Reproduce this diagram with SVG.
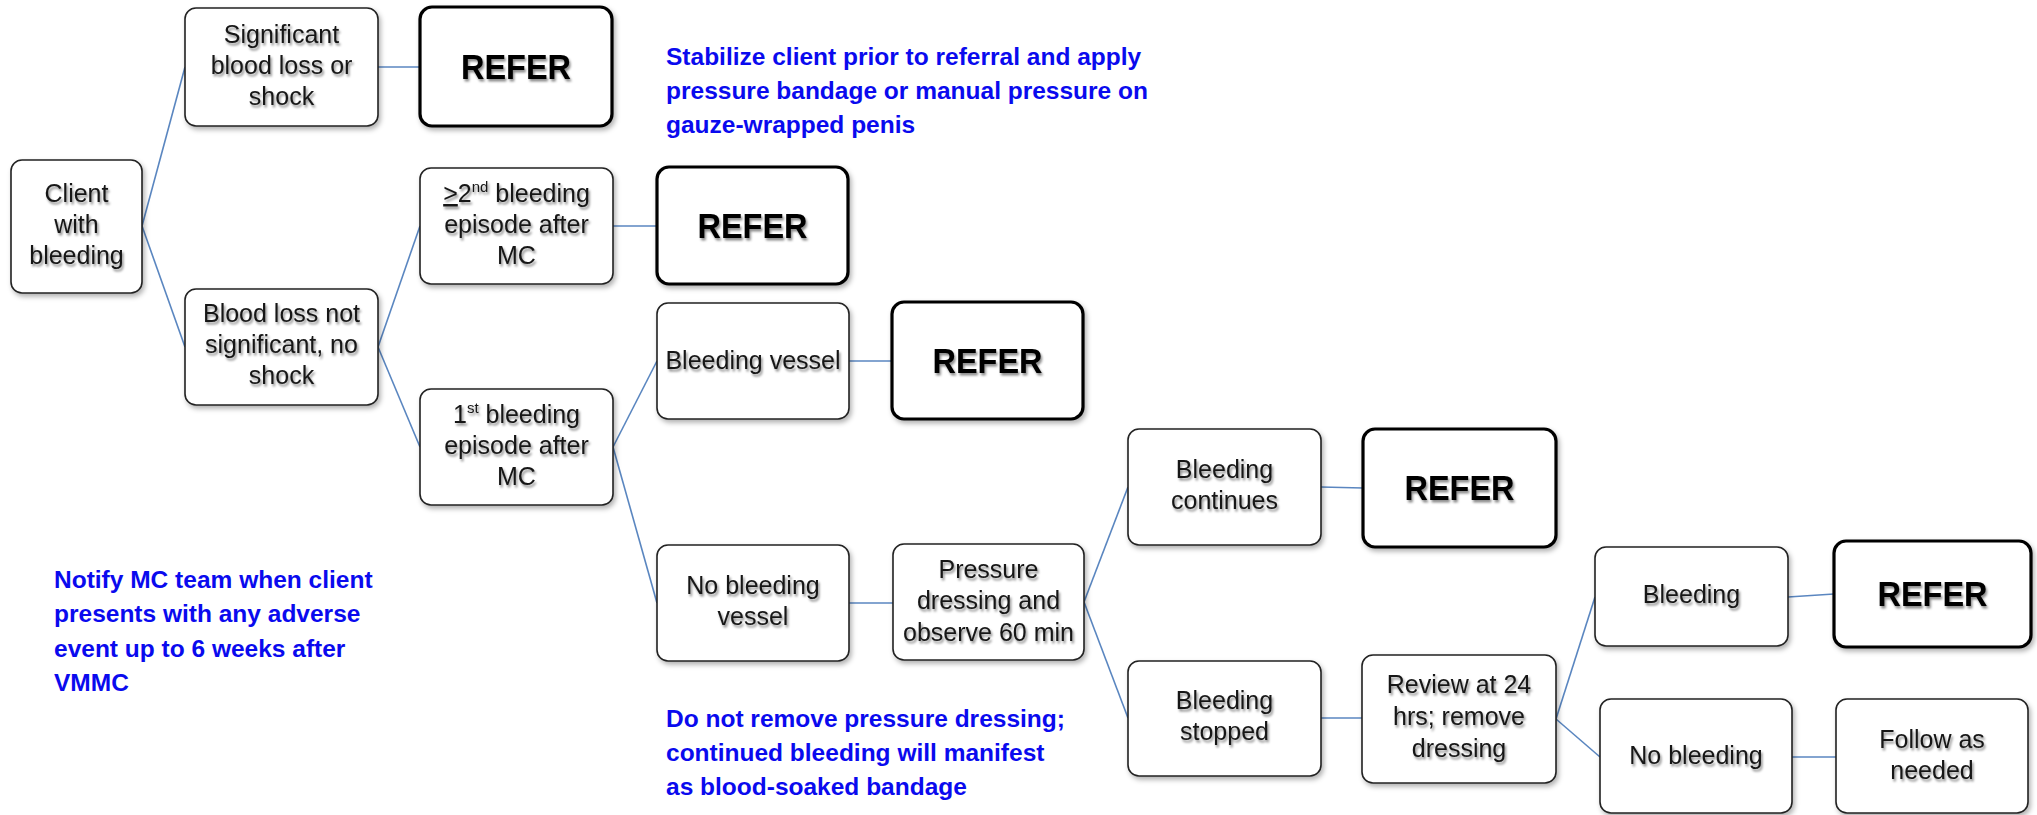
<svg xmlns="http://www.w3.org/2000/svg" width="2037" height="815" viewBox="0 0 2037 815">
<defs>
<filter id="bsh" x="-10%" y="-10%" width="125%" height="130%">
<feDropShadow dx="2" dy="3" stdDeviation="2.5" flood-color="#000" flood-opacity="0.3"/>
</filter>
<filter id="tsh" x="-10%" y="-20%" width="125%" height="150%">
<feDropShadow dx="1.5" dy="2.5" stdDeviation="1.3" flood-color="#000" flood-opacity="0.45"/>
</filter>
<style>
.box{fill:#fff;stroke:#222;stroke-width:1.6;filter:url(#bsh)}
.rbox{fill:#fff;stroke:#000;stroke-width:3.2;filter:url(#bsh)}
.t{font-family:"Liberation Sans",Arial,sans-serif;font-size:25px;fill:#161616;text-anchor:middle;filter:url(#tsh)}
.r{font-family:"Liberation Sans",Arial,sans-serif;font-size:35px;font-weight:bold;fill:#000;text-anchor:middle;filter:url(#tsh)}
.n{font-family:"Liberation Sans",Arial,sans-serif;font-size:24.5px;font-weight:bold;fill:#0a0aee}
.c{stroke:#5a86c0;stroke-width:1.6;fill:none}
.sup{font-size:15px}
</style>
</defs>

<g id="connectors">
<line class="c" x1="142" y1="226" x2="185" y2="67"/>
<line class="c" x1="142" y1="226" x2="185" y2="347"/>
<line class="c" x1="378" y1="67" x2="420" y2="67"/>
<line class="c" x1="378" y1="347" x2="420" y2="226"/>
<line class="c" x1="378" y1="347" x2="420" y2="447"/>
<line class="c" x1="613" y1="226" x2="657" y2="226"/>
<line class="c" x1="613" y1="447" x2="657" y2="361"/>
<line class="c" x1="613" y1="447" x2="657" y2="603"/>
<line class="c" x1="849" y1="361" x2="892" y2="361"/>
<line class="c" x1="849" y1="603" x2="893" y2="603"/>
<line class="c" x1="1084" y1="602" x2="1128" y2="487"/>
<line class="c" x1="1084" y1="602" x2="1128" y2="718"/>
<line class="c" x1="1321" y1="487" x2="1363" y2="488"/>
<line class="c" x1="1321" y1="718" x2="1362" y2="718"/>
<line class="c" x1="1556" y1="719" x2="1595" y2="597"/>
<line class="c" x1="1556" y1="719" x2="1600" y2="757"/>
<line class="c" x1="1788" y1="597" x2="1834" y2="594"/>
<line class="c" x1="1792" y1="757" x2="1836" y2="757"/>
</g>

<g id="client">
<rect class="box" x="11" y="160" width="131" height="133" rx="11"/>
<text class="t" x="76.5" y="202">Client</text>
<text class="t" x="76.5" y="233">with</text>
<text class="t" x="76.5" y="264">bleeding</text>
</g>

<g id="significant">
<rect class="box" x="185" y="8" width="193" height="118" rx="11"/>
<text class="t" x="281.5" y="43">Significant</text>
<text class="t" x="281.5" y="74">blood loss or</text>
<text class="t" x="281.5" y="105">shock</text>
</g>

<g id="refer1">
<rect class="rbox" x="420" y="7" width="192" height="119" rx="12"/>
<text class="r" x="516" y="79" textLength="110" lengthAdjust="spacingAndGlyphs">REFER</text>
</g>

<g id="notsig">
<rect class="box" x="185" y="289" width="193" height="116" rx="11"/>
<text class="t" x="281.5" y="322">Blood loss not</text>
<text class="t" x="281.5" y="353">significant, no</text>
<text class="t" x="281.5" y="384">shock</text>
</g>

<g id="second">
<rect class="box" x="420" y="168" width="193" height="116" rx="11"/>
<text class="t" x="516.5" y="202"><tspan text-decoration="underline">&gt;</tspan>2<tspan class="sup" dy="-10">nd</tspan><tspan dy="10"> bleeding</tspan></text>
<text class="t" x="516.5" y="233">episode after</text>
<text class="t" x="516.5" y="264">MC</text>
</g>

<g id="refer2">
<rect class="rbox" x="657" y="167" width="191" height="117" rx="12"/>
<text class="r" x="752.5" y="238" textLength="110" lengthAdjust="spacingAndGlyphs">REFER</text>
</g>

<g id="first">
<rect class="box" x="420" y="389" width="193" height="116" rx="11"/>
<text class="t" x="516.5" y="423">1<tspan class="sup" dy="-10">st</tspan><tspan dy="10"> bleeding</tspan></text>
<text class="t" x="516.5" y="454">episode after</text>
<text class="t" x="516.5" y="485">MC</text>
</g>

<g id="vessel">
<rect class="box" x="657" y="303" width="192" height="116" rx="11"/>
<text class="t" x="753" y="369">Bleeding vessel</text>
</g>

<g id="refer3">
<rect class="rbox" x="892" y="302" width="191" height="117" rx="12"/>
<text class="r" x="987.5" y="373" textLength="110" lengthAdjust="spacingAndGlyphs">REFER</text>
</g>

<g id="novessel">
<rect class="box" x="657" y="545" width="192" height="116" rx="11"/>
<text class="t" x="753" y="594">No bleeding</text>
<text class="t" x="753" y="625">vessel</text>
</g>

<g id="pressure">
<rect class="box" x="893" y="544" width="191" height="116" rx="11"/>
<text class="t" x="988.5" y="578">Pressure</text>
<text class="t" x="988.5" y="609">dressing and</text>
<text class="t" x="988.5" y="641">observe  60 min</text>
</g>

<g id="continues">
<rect class="box" x="1128" y="429" width="193" height="116" rx="11"/>
<text class="t" x="1224.5" y="478">Bleeding</text>
<text class="t" x="1224.5" y="509">continues</text>
</g>

<g id="refer4">
<rect class="rbox" x="1363" y="429" width="193" height="118" rx="12"/>
<text class="r" x="1459.5" y="500" textLength="110" lengthAdjust="spacingAndGlyphs">REFER</text>
</g>

<g id="stopped">
<rect class="box" x="1128" y="661" width="193" height="115" rx="11"/>
<text class="t" x="1224.5" y="709">Bleeding</text>
<text class="t" x="1224.5" y="740">stopped</text>
</g>

<g id="review">
<rect class="box" x="1362" y="655" width="194" height="128" rx="11"/>
<text class="t" x="1459" y="693">Review at 24</text>
<text class="t" x="1459" y="725">hrs; remove</text>
<text class="t" x="1459" y="757">dressing</text>
</g>

<g id="bleeding">
<rect class="box" x="1595" y="547" width="193" height="99" rx="11"/>
<text class="t" x="1691.5" y="603">Bleeding</text>
</g>

<g id="refer5">
<rect class="rbox" x="1834" y="541" width="197" height="106" rx="12"/>
<text class="r" x="1932.5" y="606" textLength="110" lengthAdjust="spacingAndGlyphs">REFER</text>
</g>

<g id="nobleeding">
<rect class="box" x="1600" y="699" width="192" height="114" rx="11"/>
<text class="t" x="1696" y="764">No bleeding</text>
</g>

<g id="follow">
<rect class="box" x="1836" y="699" width="192" height="114" rx="11"/>
<text class="t" x="1932" y="748">Follow as</text>
<text class="t" x="1932" y="779">needed</text>
</g>

<g id="notes">
<text class="n" x="666" y="65">Stabilize client prior to referral and apply</text>
<text class="n" x="666" y="99">pressure bandage or manual pressure on</text>
<text class="n" x="666" y="133">gauze-wrapped penis</text>
<text class="n" x="54" y="588">Notify MC team when client</text>
<text class="n" x="54" y="622">presents with any adverse</text>
<text class="n" x="54" y="657">event up to 6 weeks after</text>
<text class="n" x="54" y="691">VMMC</text>
<text class="n" x="666" y="727">Do not remove pressure dressing;</text>
<text class="n" x="666" y="761">continued bleeding will manifest</text>
<text class="n" x="666" y="795">as blood-soaked  bandage</text>
</g>
</svg>
